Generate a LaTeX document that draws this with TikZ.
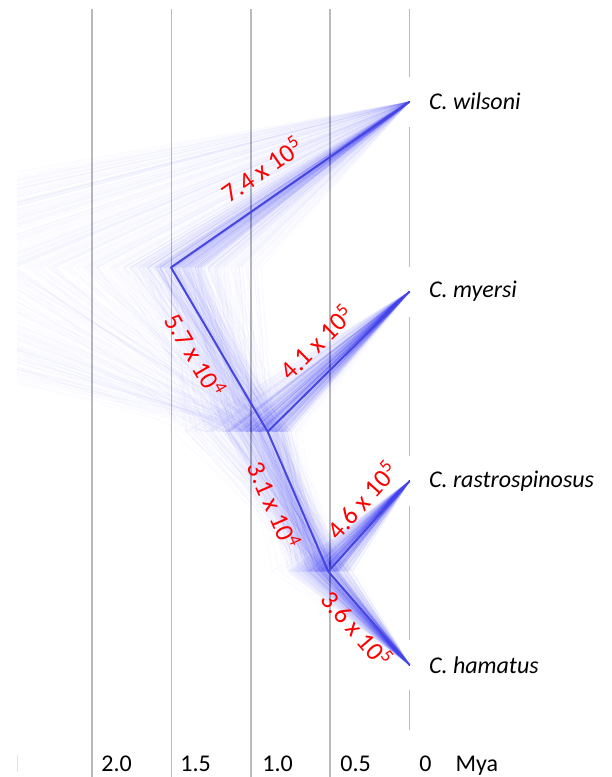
\documentclass[tikz,border=0pt]{standalone}
\usepackage{fontspec}
\setmainfont{Carlito}
\usetikzlibrary{positioning}

\definecolor{treeblue}{RGB}{30,30,240}
\definecolor{consblue}{RGB}{70,70,225}
\definecolor{guidegray}{RGB}{185,185,190}

\begin{document}
\begin{tikzpicture}[x=1pt,y=-1pt,thick,
    guide/.style={draw=guidegray,line width=1.6pt},
    cloudline/.style={draw=treeblue,line width=0.8pt,opacity=0.016},
    constree/.style={draw=consblue,line width=2pt,line join=round},
    tiplab/.style={anchor=west,fill=white,minimum height=50pt,
        inner xsep=20.5pt,inner ysep=0pt,
        font=\fontsize{24}{28}\selectfont\itshape},
    brlab/.style={sloped,text=red,inner sep=0pt,
        font=\fontsize{26}{30}\selectfont},
    agelab/.style={anchor=base west,inner sep=0pt,
        font=\fontsize{24}{28}\selectfont}]

\useasboundingbox (0,0) rectangle (611,777);

% Guides
\foreach \x in {0,1,2,3}{
    \draw[guide] (92+79.4*\x,9) -- (92+79.4*\x,777);
}
\draw[guide] (409.6,9) -- (409.6,730);
\draw[guidegray!40,line width=1pt] (17,755) -- (17,772);

% Tips
\coordinate (twil) at (409.6,101.7);
\coordinate (tmye) at (409.6,291.5);
\coordinate (tras) at (409.6,481);
\coordinate (tham) at (409.6,665);

\node[tiplab] (lwil) at ([xshift=-1.5pt]twil) {C. wilsoni};
\node[tiplab] (lmye) at ([xshift=-1.5pt]tmye) {C. myersi};
\node[tiplab] (lras) at ([xshift=-1.5pt]tras) {C. rastrospinosus};
\node[tiplab] (lham) at ([xshift=-1.5pt]tham) {C. hamatus};

% Tree cloud
\begin{scope}
\clip (17,0) rectangle (409.6,777);
\pgfmathsetseed{2718}
\foreach \i in {1,...,760}{
    \pgfmathsetmacro\cx{min(398,328+11*(rand+rand+rand)-30*rnd^4)}
    \pgfmathsetmacro\bx{min(\cx-10,268+14*(rand+rand+rand)-70*rnd^4)}
    \pgfmathsetmacro\ax{min(\bx-12,176+16*(rand+rand+rand)-700*rnd^8+110*rnd^6)}
    \coordinate (ja) at (\ax,267.5);
    \coordinate (jb) at (\bx,431.7);
    \coordinate (jc) at (\cx,571.5);
    \draw[cloudline] (twil) -- (ja) -- (jb) -- (jc) -- (tham);
    \draw[cloudline] (jb) -- (tmye);
    \draw[cloudline] (jc) -- (tras);
}
\end{scope}

% Consensus tree
\coordinate (root) at (171,267.5);
\coordinate (n2) at (267.7,431.7);
\coordinate (n3) at (328.3,571.5);

\draw[constree] (twil) -- (root) -- (n2) -- (n3) -- (tham);
\draw[constree] (n2) -- (tmye);
\draw[constree] (n3) -- (tras);

% Rates
\path (root) -- (twil) node[brlab,pos=.45,above=18pt] (rwil) {7.4 x 10\textsuperscript{5}};
\path (root) -- (n2) node[brlab,pos=.46,below=12pt] (rn2) {5.7 x 10\textsuperscript{4}};
\path (n2) -- (tmye) node[brlab,pos=.49,above=19pt] (rmye) {4.1 x 10\textsuperscript{5}};
\path (n2) -- (n3) node[brlab,pos=.46,below=12pt] (rn3) {3.1 x 10\textsuperscript{4}};
\path (n3) -- (tras) node[brlab,pos=.62,above=12pt] (rras) {4.6 x 10\textsuperscript{5}};
\path (n3) -- (tham) node[brlab,pos=.5,below=5pt] (rham) {3.6 x 10\textsuperscript{5}};

% Ages
\node[agelab] (a20) at (101,771) {2.0};
\node[agelab] (a15) at (180,771) {1.5};
\node[agelab] (a10) at (262,771) {1.0};
\node[agelab] (a05) at (340,771) {0.5};
\node[agelab] (a00) at (419,771) {0\quad Mya};

\end{tikzpicture}
\end{document}
